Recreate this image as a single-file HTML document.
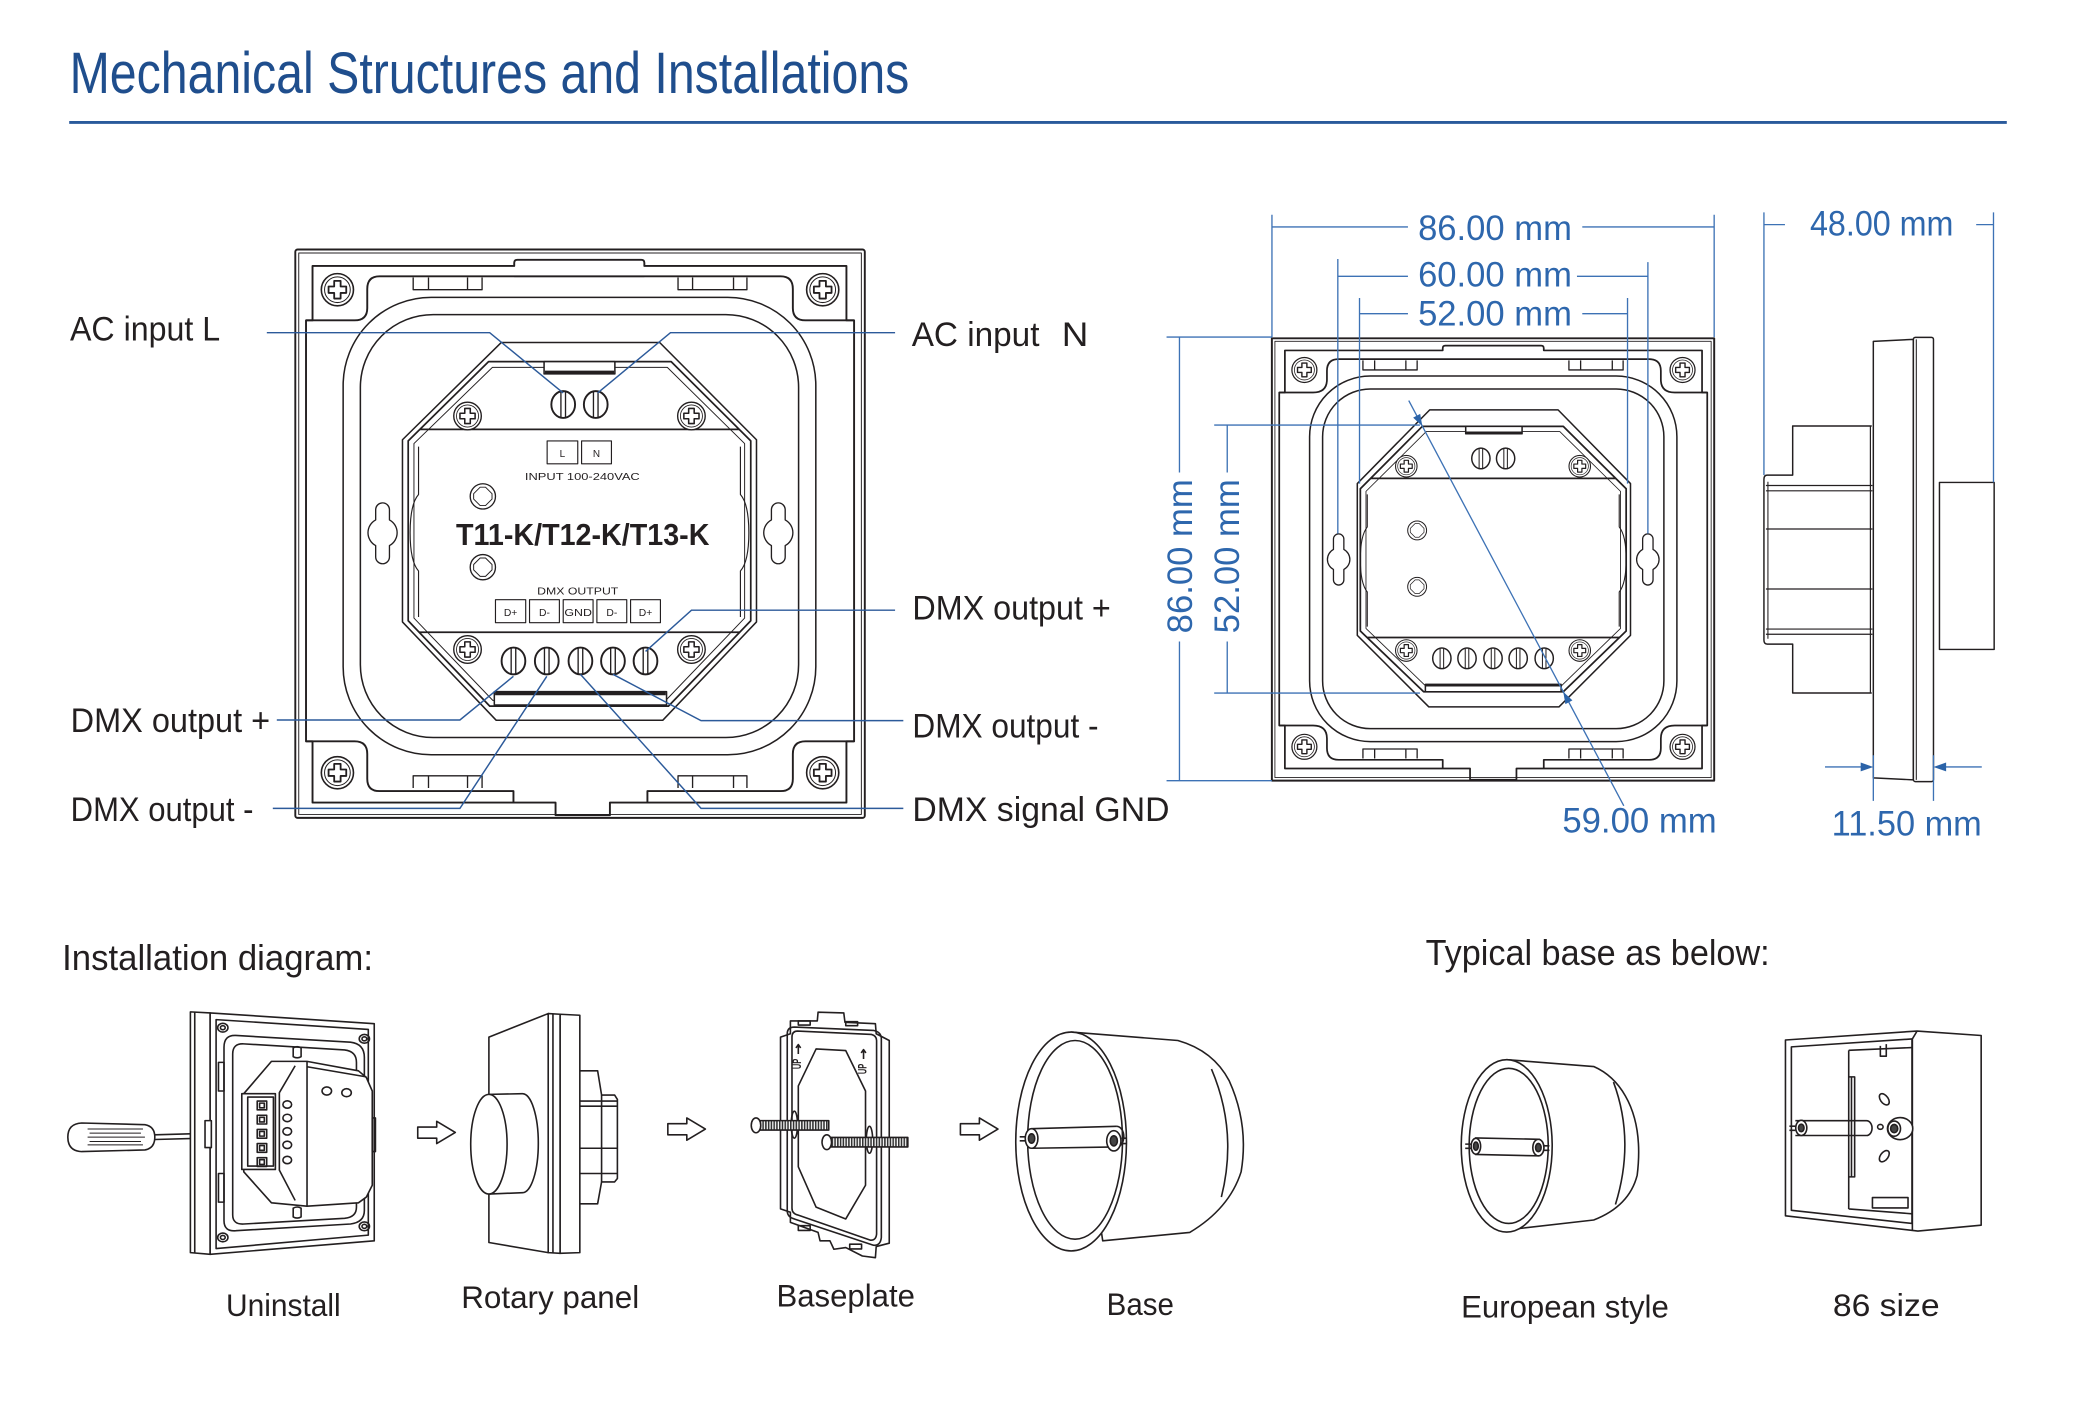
<!DOCTYPE html>
<html><head><meta charset="utf-8"><title>Mechanical Structures and Installations</title>
<style>
html,body{margin:0;padding:0;background:#fff;}
svg{display:block;}
text{font-family:"Liberation Sans",Arial,sans-serif;}
.ns path,.ns rect,.ns ellipse,.ns circle,.ns line,.ns polygon,.ns polyline{vector-effect:non-scaling-stroke;}
</style></head><body>
<svg width="2076" height="1412" viewBox="0 0 1560 1061" preserveAspectRatio="none" xmlns="http://www.w3.org/2000/svg">
<defs>
 <g id="scw">
  <circle r="40" fill="#fff" stroke="#231f20" stroke-width="4"/>
  <circle r="32" fill="none" stroke="#231f20" stroke-width="2.5"/>
  <path d="M-8,-22 h16 v14 h14 v16 h-14 v14 h-16 v-14 h-14 v-16 h14 z" fill="none" stroke="#231f20" stroke-width="4.5"/>
 </g>
 <g id="term">
  <ellipse rx="31" ry="35" fill="#fff" stroke="#231f20" stroke-width="5"/>
  <line x1="-6" y1="-33" x2="-6" y2="33" stroke="#231f20" stroke-width="3.5"/>
  <line x1="6" y1="-33" x2="6" y2="33" stroke="#231f20" stroke-width="3.5"/>
 </g>
 <g id="hole">
  <circle r="33" fill="#fff" stroke="#231f20" stroke-width="3.5"/>
  <path d="M-7,-24 L7,-24 L24,-7 L24,7 L7,24 L-7,24 L-24,7 L-24,-7 Z" fill="none" stroke="#231f20" stroke-width="2.5"/>
 </g>
 <pattern id="thr" width="7" height="20" patternUnits="userSpaceOnUse">
  <rect width="7" height="20" fill="#fff"/>
  <rect x="0" y="0" width="4" height="20" fill="#333"/>
 </pattern>
</defs>

<!-- Title -->
<text x="52.3" y="70" font-size="44" fill="#1f4e8d" textLength="631" lengthAdjust="spacingAndGlyphs">Mechanical Structures and Installations</text>
<line x1="52" y1="92" x2="1508" y2="92" stroke="#2a5a9b" stroke-width="2.2"/>

<!-- ============ LEFT DEVICE ============ -->
<g transform="translate(210.4,180.3) scale(0.2876)" fill="none" stroke="#231f20" stroke-width="4" stroke-linejoin="round">
 <rect x="40" y="25" width="1488" height="1485" rx="6" stroke-width="5"/>
 <rect x="49" y="34" width="1470" height="1467" stroke-width="2.5"/>
 <path d="M85,210 V68 H612 V60 Q612,52 620,52 H944 Q952,52 952,60 V68 H1480 V210 H1500 V1310 H1480 V1470 H862 V1503 H720 V1470 H85 V1310 H68 V210 Z" stroke-width="5"/>
 <path d="M68,210 H195 Q228,210 228,178 V128 Q228,95 260,95 H1308 Q1340,95 1340,128 V178 Q1340,210 1373,210 H1500" stroke-width="5"/>
 <path d="M68,1310 H195 Q228,1310 228,1343 V1408 Q228,1440 260,1440 H610 V1470 M960,1470 V1440 H1308 Q1340,1440 1340,1408 V1343 Q1340,1310 1373,1310 H1500" stroke-width="5"/>
 <line x1="612" y1="95" x2="952" y2="95" stroke-width="4"/>
 <path d="M348,98 V130 H528 V98 M388,98 V130 M490,98 V130" stroke-width="3.5"/>
 <path d="M1040,98 V130 H1220 V98 M1078,98 V130 M1185,98 V130" stroke-width="3.5"/>
 <path d="M348,1432 V1400 H528 V1432 M388,1400 V1432 M490,1400 V1432" stroke-width="3.5"/>
 <path d="M1040,1432 V1400 H1220 V1432 M1078,1400 V1432 M1185,1400 V1432" stroke-width="3.5"/>
 <use href="#scw" transform="translate(150,130) scale(1.05)"/>
 <use href="#scw" transform="translate(1418,130) scale(1.05)"/>
 <use href="#scw" transform="translate(150,1392) scale(1.05)"/>
 <use href="#scw" transform="translate(1418,1392) scale(1.05)"/>
 <rect x="165" y="150" width="1235" height="1195" rx="230"/>
 <rect x="210" y="195" width="1145" height="1105" rx="190"/>
 <path d="M250,705 A18,18 0 0 1 286,705 V731.5 A38,38 0 0 1 286,798.5 V828 A18,18 0 0 1 250,828 V798.5 A38,38 0 0 1 250,731.5 Z" stroke-width="3.5"/>
 <path d="M1284,705 A18,18 0 0 1 1320,705 V731.5 A38,38 0 0 1 1320,798.5 V828 A18,18 0 0 1 1284,828 V798.5 A38,38 0 0 1 1284,731.5 Z" stroke-width="3.5"/>
 <path d="M578,268 H992 L1245,522 V998 L1000,1255 H565 L320,998 V522 Z" fill="#fff"/>
 <path d="M545,318 H1022 L1230,525 V995 L1015,1218 H548 L335,995 V525 Z" stroke-width="4.5"/>
 <path d="M555,333 H1012 L1214,532 V988 L1008,1203 H556 L350,988 V532 Z" stroke-width="2.5"/>
 <path d="M365,495 H1200 M364,1025 H1201" stroke-width="4.5"/>
 <path d="M362,540 V665 Q340,690 340,765 Q340,840 362,865 V985" stroke-width="3"/>
 <path d="M1203,540 V665 Q1225,690 1225,765 Q1225,840 1203,865 V985" stroke-width="3"/>
 <rect x="690" y="318" width="185" height="32" fill="#fff"/>
 <line x1="692" y1="346" x2="873" y2="346" stroke-width="9"/>
 <rect x="560" y="1180" width="450" height="35" fill="#fff"/>
 <line x1="562" y1="1185" x2="1008" y2="1185" stroke-width="9"/>
 <use href="#term" x="740" y="430"/>
 <use href="#term" x="825" y="430"/>
 <use href="#scw" transform="translate(490,460) scale(0.9)"/>
 <use href="#scw" transform="translate(1075,460) scale(0.9)"/>
 <use href="#scw" transform="translate(490,1070) scale(0.9)"/>
 <use href="#scw" transform="translate(1075,1070) scale(0.9)"/>
 <use href="#term" x="610" y="1100"/>
 <use href="#term" x="697" y="1100"/>
 <use href="#term" x="785" y="1100"/>
 <use href="#term" x="870" y="1100"/>
 <use href="#term" x="955" y="1100"/>
 <use href="#hole" x="530" y="670"/>
 <use href="#hole" x="530" y="855"/>
 <rect x="698" y="525" width="80" height="60" stroke-width="3"/>
 <rect x="788" y="525" width="78" height="60" stroke-width="3"/>
 <rect x="563" y="940" width="79" height="60" stroke-width="3"/>
 <rect x="652" y="940" width="78" height="60" stroke-width="3"/>
 <rect x="740" y="940" width="78" height="60" stroke-width="3"/>
 <rect x="828" y="940" width="78" height="60" stroke-width="3"/>
 <rect x="916" y="940" width="78" height="60" stroke-width="3"/>
 <g fill="#231f20" stroke="none">
  <text x="738" y="567" font-size="26" text-anchor="middle">L</text>
  <text x="827" y="567" font-size="26" text-anchor="middle">N</text>
  <text x="640" y="627" font-size="27" textLength="300" lengthAdjust="spacingAndGlyphs">INPUT  100-240VAC</text>
  <text x="460" y="797" font-size="80" font-weight="bold" textLength="662" lengthAdjust="spacingAndGlyphs">T11-K/T12-K/T13-K</text>
  <text x="672" y="927" font-size="27" textLength="212" lengthAdjust="spacingAndGlyphs">DMX OUTPUT</text>
  <text x="602.5" y="982" font-size="27" text-anchor="middle">D+</text>
  <text x="691" y="982" font-size="27" text-anchor="middle">D-</text>
  <text x="779" y="982" font-size="27" text-anchor="middle" textLength="72" lengthAdjust="spacingAndGlyphs">GND</text>
  <text x="867" y="982" font-size="27" text-anchor="middle">D-</text>
  <text x="955" y="982" font-size="27" text-anchor="middle">D+</text>
 </g>
</g>

<!-- leader lines -->
<g fill="none" stroke="#2c5a9a" stroke-width="1.1">
 <path d="M200.5,250 H368 L423.2,295.3"/>
 <path d="M672.6,250 H503.8 L449.1,295.3"/>
 <path d="M672.6,458.5 H519.6 L485.1,489.5"/>
 <path d="M208,541 H345.6 L385.8,508.2"/>
 <path d="M205,607.4 H345.6 L410.9,508.2"/>
 <path d="M678.8,541.5 H526.8 L460.6,506.7"/>
 <path d="M678.8,607.4 H526.8 L436.2,506.7"/>
</g>

<!-- labels -->
<g fill="#231f20" font-size="26">
 <text x="52.6" y="256" textLength="112.8" lengthAdjust="spacingAndGlyphs">AC input L</text>
 <text x="53.1" y="550" textLength="149.9" lengthAdjust="spacingAndGlyphs">DMX output +</text>
 <text x="53.1" y="617" textLength="137.4" lengthAdjust="spacingAndGlyphs">DMX output -</text>
 <text x="685.1" y="260" textLength="96" lengthAdjust="spacingAndGlyphs">AC input</text>
 <text x="797.9" y="260" textLength="20" lengthAdjust="spacingAndGlyphs">N</text>
 <text x="685.6" y="465.6" textLength="149.1" lengthAdjust="spacingAndGlyphs">DMX output +</text>
 <text x="685.6" y="554.2" textLength="139.9" lengthAdjust="spacingAndGlyphs">DMX output -</text>
 <text x="685.6" y="617" textLength="193.2" lengthAdjust="spacingAndGlyphs">DMX signal GND</text>
</g>

<!-- ============ RIGHT DEVICE (front) ============ -->
<g transform="translate(871.67,135.26) scale(0.32586)" fill="none" stroke="#231f20" stroke-width="3.5" stroke-linejoin="round">
 <rect x="258" y="365" width="1020" height="1020" stroke-width="4.5"/>
 <rect x="265" y="372" width="1006" height="1006" stroke-width="2"/>
 <path d="M275,490 H288 V393 H652 V388 Q652,382 658,382 H879 Q885,382 885,388 V393 H1250 V490 H1262 V1258 H1250 V1357 H822 V1383 H715 V1357 H288 V1258 H275 Z" stroke-width="4"/>
 <path d="M275,490 H353 Q385,490 385,460 V440 Q385,413 412,413 H1128 Q1155,413 1155,440 V460 Q1155,490 1187,490 H1262" stroke-width="4"/>
 <path d="M275,1258 H353 Q385,1258 385,1288 V1310 Q385,1337 412,1337 H652 V1357 M885,1357 V1337 H1128 Q1155,1337 1155,1310 V1288 Q1155,1258 1187,1258 H1262" stroke-width="4"/>
 <path d="M468,416 V438 H593 V416 M495,416 V438 M567,416 V438" stroke-width="3"/>
 <path d="M943,416 V438 H1068 V416 M970,416 V438 M1043,416 V438" stroke-width="3"/>
 <path d="M468,1334 V1312 H593 V1334 M495,1312 V1334 M567,1312 V1334" stroke-width="3"/>
 <path d="M943,1334 V1312 H1068 V1334 M970,1312 V1334 M1043,1312 V1334" stroke-width="3"/>
 <use href="#scw" transform="translate(333,438) scale(0.72)"/>
 <use href="#scw" transform="translate(1205,438) scale(0.72)"/>
 <use href="#scw" transform="translate(333,1307) scale(0.72)"/>
 <use href="#scw" transform="translate(1205,1307) scale(0.72)"/>
 <rect x="345" y="452" width="847" height="843" rx="140"/>
 <rect x="375" y="482" width="787" height="783" rx="110"/>
 <path d="M400,828 A12,12 0 0 1 424,828 V852 A26,26 0 0 1 424,898 V922 A12,12 0 0 1 400,922 V898 A26,26 0 0 1 400,852 Z" stroke-width="3"/>
 <path d="M1113,828 A12,12 0 0 1 1137,828 V852 A26,26 0 0 1 1137,898 V922 A12,12 0 0 1 1113,922 V898 A26,26 0 0 1 1113,852 Z" stroke-width="3"/>
 <path d="M622,530 H918 L1085,700 V1050 L920,1215 H620 L455,1050 V700 Z" fill="#fff"/>
 <path d="M605,568 H930 L1075,712 V1040 L930,1180 H608 L462,1040 V712 Z" stroke-width="4"/>
 <path d="M614,580 H922 L1062,718 V1034 L924,1168 H614 L475,1034 V718 Z" stroke-width="2"/>
 <path d="M486,688 H1051 M478,1055 H1059" stroke-width="4"/>
 <path d="M478,725 V800 Q462,820 462,875 Q462,930 478,950 V1030" stroke-width="2.5"/>
 <path d="M1059,725 V800 Q1075,820 1075,875 Q1075,930 1059,950 V1030" stroke-width="2.5"/>
 <rect x="705" y="568" width="130" height="17" fill="#fff"/>
 <line x1="706" y1="583" x2="834" y2="583" stroke-width="6"/>
 <rect x="612" y="1163" width="313" height="17" fill="#fff"/>
 <line x1="613" y1="1165" x2="924" y2="1165" stroke-width="6"/>
 <use href="#term" transform="translate(740,642) scale(0.68)"/>
 <use href="#term" transform="translate(797,642) scale(0.68)"/>
 <use href="#term" transform="translate(650,1103) scale(0.68)"/>
 <use href="#term" transform="translate(708,1103) scale(0.68)"/>
 <use href="#term" transform="translate(768,1103) scale(0.68)"/>
 <use href="#term" transform="translate(826,1103) scale(0.68)"/>
 <use href="#term" transform="translate(886,1103) scale(0.68)"/>
 <use href="#scw" transform="translate(568,660) scale(0.62)"/>
 <use href="#scw" transform="translate(968,660) scale(0.62)"/>
 <use href="#scw" transform="translate(568,1085) scale(0.62)"/>
 <use href="#scw" transform="translate(968,1085) scale(0.62)"/>
 <use href="#hole" transform="translate(593,808) scale(0.66)"/>
 <use href="#hole" transform="translate(593,938) scale(0.66)"/>
</g>

<!-- ============ SIDE VIEW ============ -->
<g fill="none" stroke="#231f20" stroke-width="1.1" stroke-linejoin="round">
 <path d="M1406.5,320.1 H1347.1 V357 H1328 Q1325.5,357 1325.5,360 V481 Q1325.5,484 1328,484 H1347.1 V520.7 H1406.5"/>
 <path d="M1328.5,362 V480" stroke-width="0.8"/>
 <path d="M1327,364.8 H1407 M1327,368.8 H1407 M1327,397.5 H1407 M1327,442.6 H1407 M1327,472.7 H1407 M1327,476.6 H1407" stroke-width="0.9"/>
 <path d="M1405.5,320 V521" stroke-width="0.9"/>
 <path d="M1407.7,256.5 L1437.8,255 V586 L1407.7,584.5 Z" fill="#fff"/>
 <rect x="1437.8" y="253.5" width="15.1" height="333.8" rx="1.5" fill="#fff"/>
 <line x1="1440" y1="255" x2="1440" y2="586" stroke-width="0.8"/>
 <rect x="1457.4" y="362.5" width="41.1" height="125.5"/>
</g>

<!-- ============ DIMENSIONS ============ -->
<g fill="none" stroke="#3d72b5" stroke-width="1">
 <path d="M955.8,161.4 V253.3 M1288.1,161.4 V253.3 M955.8,170.5 H1058 M1189,170.5 H1288.1"/>
 <path d="M1005.3,194.6 V401 M1238.3,197 V401 M1005.3,207.6 H1058 M1185,207.6 H1238.3"/>
 <path d="M1021.6,223.9 V363.4 M1223,223.9 V363.4 M1021.6,235.7 H1058 M1189,235.7 H1223"/>
 <path d="M876.6,253.3 H955.8 M876.6,586.6 H955.8 M886.3,253.3 V355 M886.3,482 V586.6"/>
 <path d="M912.4,319.4 H1067 M912.4,520.8 H1067 M922.2,319.4 V355 M922.2,482 V520.8"/>
 <path d="M1058.6,301 L1220.2,605.5"/>
 <path d="M1325.5,159.6 V357 M1498,159.6 V362.5 M1325.5,168.8 H1341.3 M1485,168.8 H1498"/>
 <path d="M1407.7,567.5 V601.8 M1452.9,567.5 V601.8 M1371.4,576.3 H1400 M1460,576.3 H1489.2"/>
</g>
<g fill="#2b63a8">
 <polygon points="1068.8,320.3 1067.2,311.0 1061.9,313.8"/>
 <polygon points="1174.7,519.8 1181.6,526.3 1176.3,529.1"/>
 <polygon points="1407.7,576.3 1398.2,573 1398.2,579.6"/>
 <polygon points="1452.9,576.3 1462.4,573 1462.4,579.6"/>
</g>
<g fill="#2e67ad" font-size="26.5">
 <text x="1065.6" y="180.3" textLength="115.6" lengthAdjust="spacingAndGlyphs">86.00 mm</text>
 <text x="1065.6" y="215.1" textLength="115.6" lengthAdjust="spacingAndGlyphs">60.00 mm</text>
 <text x="1065.6" y="244.5" textLength="115.6" lengthAdjust="spacingAndGlyphs">52.00 mm</text>
 <text x="1174" y="625.7" textLength="116" lengthAdjust="spacingAndGlyphs">59.00 mm</text>
 <text x="1360.1" y="177" textLength="107.8" lengthAdjust="spacingAndGlyphs">48.00 mm</text>
 <text x="1376.4" y="627.9" textLength="112.8" lengthAdjust="spacingAndGlyphs">11.50 mm</text>
 <text transform="translate(895.6,418) rotate(-90)" text-anchor="middle" textLength="115.8" lengthAdjust="spacingAndGlyphs">86.00 mm</text>
 <text transform="translate(931.2,418) rotate(-90)" text-anchor="middle" textLength="115.8" lengthAdjust="spacingAndGlyphs">52.00 mm</text>
</g>

<!-- ============ BOTTOM HEADINGS ============ -->
<g fill="#231f20">
 <text x="46.7" y="729" font-size="27" textLength="233.6" lengthAdjust="spacingAndGlyphs">Installation diagram:</text>
 <text x="1071.3" y="725" font-size="27" textLength="258.5" lengthAdjust="spacingAndGlyphs">Typical base as below:</text>
 <text x="169.8" y="988.8" font-size="24" textLength="86.2" lengthAdjust="spacingAndGlyphs">Uninstall</text>
 <text x="346.6" y="983" font-size="24" textLength="133.7" lengthAdjust="spacingAndGlyphs">Rotary panel</text>
 <text x="583.5" y="981.7" font-size="24" textLength="104" lengthAdjust="spacingAndGlyphs">Baseplate</text>
 <text x="831.6" y="988" font-size="24" textLength="50.5" lengthAdjust="spacingAndGlyphs">Base</text>
 <text x="1098" y="990" font-size="24" textLength="156" lengthAdjust="spacingAndGlyphs">European style</text>
 <text x="1377.3" y="989" font-size="24" textLength="80.2" lengthAdjust="spacingAndGlyphs">86 size</text>
</g>

<!-- ============ UNINSTALL + ROTARY (zoom6 coords) ============ -->
<g class="ns" transform="translate(37.6,743.9) scale(0.2971,0.2530)" fill="none" stroke="#231f20" stroke-width="1.6" stroke-linejoin="round">
 <!-- screwdriver -->
 <path d="M80,395 L240,400 Q265,405 265,437 Q265,470 240,475 L80,480 Q45,478 45,437 Q45,397 80,395 Z" fill="#fff"/>
 <path d="M95,413 H235 M95,437 H240 M95,460 H235 M100,425 H230 M100,450 H230" stroke-width="1"/>
 <path d="M265,430 L388,426 M265,444 L388,440" />
 <!-- plate -->
 <polygon points="355,65 405,68 405,785 355,780" fill="#fff"/>
 <line x1="366" y1="66" x2="366" y2="781"/>
 <polygon points="405,68 820,100 820,745 405,785" fill="#fff"/>
 <polygon points="420,88 805,117 805,728 420,768"/>
 <rect x="392" y="388" width="16" height="80" fill="#fff"/>
 <path d="M470,135 L760,155 Q795,160 795,200 L795,655 Q795,690 760,695 L470,715 Q440,718 440,685 L440,170 Q440,133 470,135 Z"/>
 <path d="M490,160 L745,178 Q775,182 775,215 L775,645 Q775,675 745,678 L490,695 Q462,697 462,668 L462,190 Q462,158 490,160 Z"/>
 <circle cx="437" cy="112" r="13"/><circle cx="437" cy="112" r="6"/>
 <circle cx="795" cy="145" r="13"/><circle cx="795" cy="145" r="6"/>
 <circle cx="437" cy="735" r="13"/><circle cx="437" cy="735" r="6"/>
 <circle cx="795" cy="702" r="13"/><circle cx="795" cy="702" r="6"/>
 <rect x="426" y="215" width="14" height="85"/>
 <rect x="426" y="545" width="14" height="85"/>
 <path d="M615,172 Q625,165 635,172 V198 Q625,205 615,198 Z"/>
 <path d="M615,648 Q625,641 635,648 V674 Q625,681 615,674 Z"/>
 <!-- module -->
 <path d="M560,212 L650,212 L780,240 L800,260 L815,300 L815,580 L800,615 L780,632 L650,642 L560,632 L490,540 L490,308 Z" fill="#fff"/>
 <path d="M650,212 V642 M620,225 L580,305 V535 L620,625 M650,228 L800,258"/>
 <rect x="485" y="308" width="85" height="225" fill="#fff"/>
 <rect x="500" y="318" width="65" height="205"/>
 <rect x="524" y="330" width="24" height="26"/><rect x="530" y="336" width="12" height="14"/>
 <rect x="524" y="372" width="24" height="26"/><rect x="530" y="378" width="12" height="14"/>
 <rect x="524" y="414" width="24" height="26"/><rect x="530" y="420" width="12" height="14"/>
 <rect x="524" y="456" width="24" height="26"/><rect x="530" y="462" width="12" height="14"/>
 <rect x="524" y="498" width="24" height="26"/><rect x="530" y="504" width="12" height="14"/>
 <circle cx="600" cy="340" r="11"/><circle cx="600" cy="380" r="11"/><circle cx="600" cy="420" r="11"/><circle cx="600" cy="460" r="11"/><circle cx="600" cy="505" r="11"/>
 <circle cx="700" cy="300" r="12"/><circle cx="750" cy="305" r="12"/>
 <rect x="815" y="380" width="8" height="100"/>
 <!-- arrow 1 -->
 <polygon points="930,407 978,407 978,390 1025,423 978,456 978,440 930,440"/>
 <!-- rotary panel -->
 <path d="M1340,240 H1385 L1395,312 H1428 L1435,325 V560 L1428,570 H1395 L1385,635 H1340" fill="#fff"/>
 <path d="M1340,330 H1435 M1340,345 H1435 M1340,470 H1435 M1340,545 H1435 M1395,312 V570"/>
 <polygon points="1290,72 1340,75 1340,780 1290,782" fill="#fff"/>
 <polygon points="1260,70 1290,72 1290,782 1260,780" fill="#fff"/>
 <line x1="1272" y1="70" x2="1272" y2="781"/>
 <polygon points="1110,140 1260,70 1260,780 1110,750" fill="#fff"/>
 <path d="M1110,310 L1195,308 A40,147 0 0 1 1195,602 L1110,606 Z" fill="#fff"/>
 <ellipse cx="1110" cy="458" rx="46" ry="148" fill="#fff"/>
</g>

<!-- ============ BASEPLATE + BASE (zoom7 coords) ============ -->
<g class="ns" transform="translate(495.9,743.9) scale(0.2971,0.2530)" fill="none" stroke="#231f20" stroke-width="1.6" stroke-linejoin="round">
 <polygon points="20,397 68,397 68,380 115,413 68,446 68,430 20,430"/>
 <polygon points="760,397 808,397 808,380 855,413 808,446 808,430 760,430"/>
 <!-- baseplate -->
 <path d="M330,92 L398,92 L400,66 L465,68 L468,96 L545,100 L547,130 L580,150 L580,752 L547,762 L545,795 L512,790 L470,765 L440,770 L430,745 L405,745 L400,720 L330,690 L330,660 L305,650 L305,140 L330,130 Z" fill="#fff"/>
 <path d="M340,110 L540,120 Q560,125 560,145 L560,735 Q558,760 540,758 L340,680 Q322,675 322,655 L322,130 Q322,110 340,110 Z"/>
 <path d="M348,122 L535,132 Q548,136 548,150 L548,725 Q546,745 532,743 L348,668 Q334,664 334,648 L334,140 Q334,122 348,122 Z"/>
 <polygon points="395,175 470,180 520,300 520,580 470,680 395,645 350,525 350,285"/>
 <rect x="350" y="92" width="30" height="12"/><rect x="470" y="94" width="30" height="12"/>
 <rect x="350" y="700" width="30" height="14"/><rect x="480" y="755" width="30" height="14"/>
 <ellipse cx="340" cy="400" rx="8" ry="40"/>
 <ellipse cx="530" cy="445" rx="8" ry="40"/>
 <rect x="252" y="388" width="175" height="28" fill="url(#thr)"/>
 <ellipse cx="243" cy="402" rx="12" ry="22" fill="#fff"/>
 <rect x="432" y="438" width="195" height="28" fill="url(#thr)"/>
 <ellipse cx="422" cy="452" rx="12" ry="22" fill="#fff"/>
 <g fill="#231f20" stroke="none" font-size="26" font-weight="bold">
  <text transform="translate(357,235) rotate(-90) scale(0.85,1.17)">UP</text>
  <text transform="translate(522,250) rotate(-90) scale(0.85,1.17)">UP</text>
 </g>
 <path d="M350,190 V165 M344,172 L350,162 L356,172 M515,205 V180 M509,187 L515,177 L521,187"/>
 <!-- base -->
 <path d="M1040,125 L1310,150 Q1400,180 1440,270 Q1490,400 1470,540 Q1440,650 1340,720 L1120,745 Z" fill="#fff"/>
 <path d="M1395,235 Q1462,420 1420,615"/>
 <ellipse cx="1040" cy="450" rx="140" ry="325" fill="#fff"/>
 <ellipse cx="1050" cy="445" rx="120" ry="295"/>
 <path d="M940,412 L1155,405 M940,470 L1155,466"/>
 <path d="M1155,405 A18,30 0 0 1 1155,466"/>
 <ellipse cx="940" cy="441" rx="16" ry="29" fill="#fff"/>
 <ellipse cx="940" cy="441" rx="8" ry="14" fill="#444"/>
 <ellipse cx="1148" cy="448" rx="18" ry="30" fill="#fff"/>
 <ellipse cx="1148" cy="448" rx="9" ry="15" fill="#444"/>
 <path d="M910,436 H925 M910,448 H925 M1168,440 H1180 M1168,456 H1180"/>
</g>

<!-- ============ EUROPEAN + 86 BOX (zoom8 coords) ============ -->
<g class="ns" transform="translate(1052,691.3) scale(0.2971,0.2591)" fill="none" stroke="#231f20" stroke-width="1.6" stroke-linejoin="round">
 <path d="M270,405 L490,425 Q540,450 570,510 Q615,600 600,740 Q580,830 490,870 L300,895 Z" fill="#fff"/>
 <path d="M540,470 Q595,640 545,825"/>
 <ellipse cx="270" cy="655" rx="115" ry="250" fill="#fff"/>
 <ellipse cx="275" cy="655" rx="100" ry="225"/>
 <path d="M190,632 L350,636 M190,680 L350,684"/>
 <path d="M350,636 A14,24 0 0 1 350,684"/>
 <ellipse cx="192" cy="656" rx="12" ry="23" fill="#fff"/>
 <ellipse cx="192" cy="656" rx="6" ry="12" fill="#444"/>
 <ellipse cx="350" cy="660" rx="14" ry="24" fill="#fff"/>
 <ellipse cx="350" cy="660" rx="7" ry="12" fill="#444"/>
 <path d="M165,650 H180 M165,662 H180 M364,655 H378 M364,668 H378"/>
 <!-- 86 box -->
 <polygon points="975,348 1308,322 1470,335 1470,885 1310,902 975,858" fill="#fff"/>
 <path d="M1296,345 V900 M1296,345 L1308,322"/>
 <polygon points="990,368 1295,345 1295,880 990,842"/>
 <path d="M1135,378 V838 M1135,378 L1295,370 M1135,838 L1295,852"/>
 <path d="M1135,455 H1150 V745 H1135 M1142,455 V745"/>
 <path d="M1215,365 V395 H1230 V360"/>
 <rect x="1195" y="805" width="90" height="30"/>
 <path d="M1000,582 H1180 M1000,625 H1180"/>
 <path d="M1180,582 A14,21.5 0 0 1 1180,625"/>
 <ellipse cx="1015" cy="603" rx="14" ry="22" fill="#fff"/>
 <ellipse cx="1015" cy="603" rx="7" ry="11" fill="#444"/>
 <path d="M985,598 H1000 M985,610 H1000"/>
 <circle cx="1265" cy="605" r="32" fill="#fff"/>
 <ellipse cx="1250" cy="605" rx="16" ry="22" fill="#fff"/>
 <ellipse cx="1250" cy="605" rx="9" ry="12" fill="#444"/>
 <circle cx="1215" cy="600" r="7"/>
 <ellipse cx="1225" cy="520" rx="10" ry="18" transform="rotate(-30 1225 520)"/>
 <ellipse cx="1225" cy="685" rx="10" ry="18" transform="rotate(30 1225 685)"/>
</g>
</svg>
</body></html>
